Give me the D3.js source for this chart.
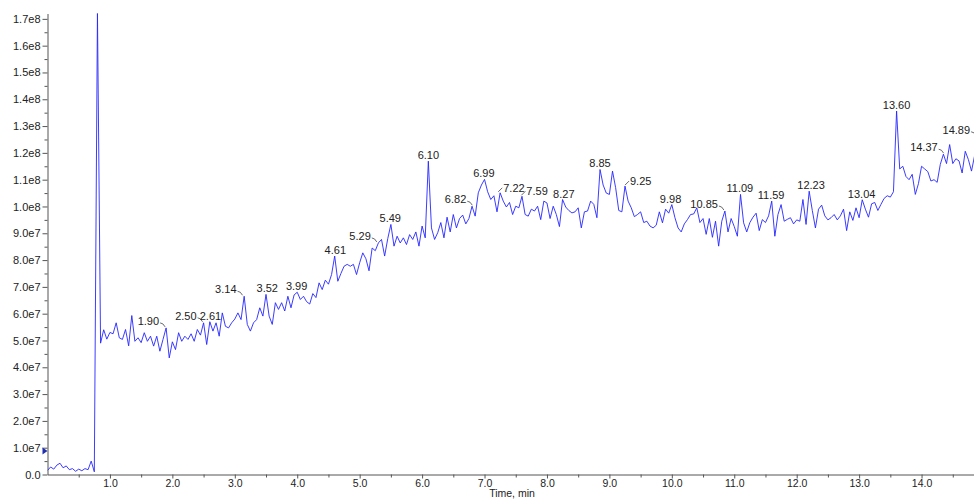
<!DOCTYPE html>
<html>
<head>
<meta charset="utf-8">
<title>TIC</title>
<script src="https://d3js.org/d3.v7.min.js"></script>
<style>
  body { margin: 0; background: #fff; }
  svg text { font-family: "Liberation Sans", Arial, sans-serif; font-size: 11px; }
</style>
</head>
<body>
<div id="chart"></div>
<script>

// scan spacing of the trace, in minutes
var scanStep = 0.05;

// intensity of each scan, in units of 1e7 counts
var intensity = [
  0.15, 0.28, 0.20, 0.35, 0.42, 0.25, 0.32, 0.18, 0.22, 0.12,
  0.20, 0.14, 0.22, 0.18, 0.50, 0.10, 17.25, 4.90, 5.40, 5.05,
  5.30, 5.25, 5.66, 5.10, 5.04, 5.41, 4.80, 5.93, 4.97, 5.10,
  4.92, 5.29, 4.97, 5.16, 4.79, 5.16, 4.60, 5.04, 5.47, 4.35,
  4.95, 4.66, 5.29, 4.97, 5.16, 5.04, 5.25, 4.97, 5.41, 5.20,
  5.66, 4.85, 5.70, 5.35, 5.66, 5.16, 6.03, 5.53, 5.47, 5.66,
  5.80, 6.03, 5.78, 6.65, 5.60, 5.35, 5.66, 5.78, 6.22, 5.91,
  6.72, 5.91, 5.60, 6.41, 6.16, 6.41, 6.10, 6.65, 6.22, 6.70,
  6.80, 6.53, 6.65, 6.45, 6.36, 6.75, 6.60, 7.15, 6.90, 7.25,
  7.10, 7.46, 8.15, 7.21, 7.50, 7.77, 7.84, 7.77, 7.84, 7.46,
  7.90, 8.27, 8.05, 7.60, 8.45, 8.35, 8.64, 8.77, 8.15, 8.80,
  9.33, 8.52, 8.89, 8.64, 8.83, 8.58, 8.95, 8.77, 9.05, 8.52,
  9.27, 8.83, 11.69, 9.20, 8.77, 9.02, 9.40, 8.83, 9.60, 9.05,
  9.70, 9.20, 9.55, 9.68, 9.35, 9.55, 10.01, 9.64, 10.51, 10.80,
  11.01, 10.55, 10.26, 10.40, 9.80, 10.51, 10.20, 9.98, 10.15, 9.70,
  10.01, 9.95, 10.38, 9.70, 9.64, 9.90, 9.83, 10.01, 9.51, 10.20,
  10.13, 9.55, 10.01, 9.70, 9.25, 10.26, 9.98, 9.85, 9.76, 9.80,
  9.95, 9.20, 9.80, 9.83, 10.20, 10.08, 9.58, 11.38, 10.80, 10.50,
  10.45, 11.32, 10.70, 9.85, 9.80, 10.76, 10.20, 9.95, 9.62, 9.70,
  9.80, 9.40, 9.45, 9.27, 9.20, 9.30, 9.80, 9.39, 9.90, 9.75,
  10.07, 9.58, 9.20, 9.05, 9.35, 9.51, 9.70, 9.72, 9.95, 9.40,
  9.55, 8.96, 9.55, 8.85, 9.45, 8.52, 9.45, 9.83, 9.05, 9.55,
  9.25, 8.89, 10.45, 9.39, 9.05, 9.40, 9.60, 9.75, 9.10, 9.51,
  9.40, 9.65, 10.20, 8.89, 9.70, 10.07, 9.45, 9.52, 9.58, 9.35,
  9.50, 9.45, 10.26, 9.33, 10.57, 9.85, 9.20, 9.90, 10.05, 9.65,
  9.50, 9.58, 9.70, 9.50, 9.65, 9.90, 9.10, 9.80, 9.48, 9.95,
  9.58, 10.25, 9.90, 9.60, 10.10, 10.15, 9.85, 10.08, 10.30, 10.40,
  10.35, 10.55, 13.56, 11.40, 11.50, 11.12, 11.00, 11.20, 10.45, 10.85,
  11.50, 11.40, 11.30, 10.95, 11.00, 10.90, 11.57, 11.95, 11.60, 12.31,
  11.60, 11.78, 11.70, 11.25, 12.06, 11.75, 11.32, 11.90, 12.60
];

// labelled peak apex times, and which side the label sits on
var peakTimes = [1.90, 2.50, 2.61, 3.14, 3.52, 3.99, 4.61, 5.29, 5.49, 6.10, 6.82, 6.99, 7.22,
                 7.59, 8.27, 8.85, 9.25, 9.98, 10.85, 11.09, 11.59, 12.23, 13.04, 13.60, 14.37, 14.89];
var labelSide = ["L", "L", "C", "L", "C", "C", "C", "L", "C", "C", "L", "C", "R",
                 "R", "C", "C", "R", "C", "L", "C", "C", "C", "C", "C", "L", "L"];

// axis ticks
var xTicks = [1, 2, 3, 4, 5, 6, 7, 8, 9, 10, 11, 12, 13, 14];
var xMinorTicks = [0.5, 1.5, 2.5, 3.5, 4.5, 5.5, 6.5, 7.5, 8.5, 9.5, 10.5, 11.5, 12.5, 13.5, 14.5];
var yTicks = d3.range(0, 18).map(function(k) { return k * 1e7; });
var yMinorTicks = d3.range(0, 17).map(function(k) { return k * 1e7 + 5e6; });
var markerLevel = 0.88e7;

var W = 974, H = 499;
var svg = d3.select("#chart").append("svg").attr("width", W).attr("height", H);

var data = intensity.map(function(v, i) { return { t: i * scanStep, v: v * 1e7 }; });

var x = d3.scaleLinear().domain([0, 14.84]).range([47.5, 974]);
var y = d3.scaleLinear().domain([0, 1.72e8]).range([474.5, 13.5]);

svg.append("clipPath").attr("id", "plot")
  .append("rect").attr("x", 47.5).attr("y", 13.5).attr("width", 974 - 47.5).attr("height", 474.5 - 13.5);

// y axis
function yFmt(d) {
  if (d === 0) return "0.0";
  return d3.format(".1e")(d).replace("e+", "e");
}
var gy = svg.append("g").attr("transform", "translate(47.5,0)")
  .call(d3.axisLeft(y).tickValues(yTicks).tickSize(5).tickSizeOuter(0).tickFormat(yFmt).tickPadding(2));
var gym = svg.append("g").attr("transform", "translate(47.5,0)")
  .call(d3.axisLeft(y).tickValues(yMinorTicks).tickSize(3).tickSizeOuter(0).tickFormat(""));
gym.select(".domain").remove();

// x axis
var gx = svg.append("g").attr("transform", "translate(0,474.5)")
  .call(d3.axisBottom(x).tickValues(xTicks).tickSize(4).tickSizeOuter(0).tickFormat(d3.format(".1f")).tickPadding(1));
var gxm = svg.append("g").attr("transform", "translate(0,474.5)")
  .call(d3.axisBottom(x).tickValues(xMinorTicks).tickSize(3).tickSizeOuter(0).tickFormat(""));
gxm.select(".domain").remove();

svg.selectAll(".domain, .tick line").attr("stroke", "#555");
svg.selectAll(".tick text").attr("fill", "#222").style("font-size", "11px")
  .style("font-family", "'Liberation Sans', Arial, sans-serif");
gx.selectAll(".tick text").style("font-size", "10.5px");

svg.append("text")
  .attr("x", 512).attr("y", 497)
  .attr("text-anchor", "middle")
  .attr("fill", "#222")
  .style("font-size", "10.5px")
  .text("Time, min");

// the trace
svg.append("path")
  .datum(data)
  .attr("clip-path", "url(#plot)")
  .attr("fill", "none")
  .attr("stroke", "#2626ff")
  .attr("stroke-width", 0.9)
  .attr("d", d3.line()
    .x(function(d) { return x(d.t); })
    .y(function(d) { return y(d.v); }));

// threshold marker on the y axis
var my = y(markerLevel), mx = x(0);
svg.append("path")
  .attr("d", "M" + (mx - 5) + "," + (my - 3.5) + "L" + mx + "," + my + "L" + (mx - 5) + "," + (my + 3.5) + "Z")
  .attr("fill", "#1f2fb0");

// peak labels
function apexOf(t) {
  var m = 0;
  data.forEach(function(d) { if (Math.abs(d.t - t) <= 0.055 && d.v > m) m = d.v; });
  return m;
}

var labels = svg.append("g");
peakTimes.forEach(function(t, k) {
  var ax = x(t), ay = y(apexOf(t));
  var side = labelSide[k];
  var txt = labels.append("text").attr("fill", "#222").text(t.toFixed(2));
  if (side === "C") {
    txt.attr("x", ax).attr("y", ay - 2).attr("text-anchor", "middle");
  } else if (side === "L") {
    txt.attr("x", ax - 7).attr("y", ay - 3).attr("text-anchor", "end");
    labels.append("path")
      .attr("d", "M" + (ax - 6) + "," + (ay - 5) + "Q" + (ax - 3) + "," + (ay - 5) + " " + (ax - 1) + "," + (ay - 1))
      .attr("fill", "none").attr("stroke", "#444").attr("stroke-width", 0.8);
  } else {
    txt.attr("x", ax + 5).attr("y", ay - 1).attr("text-anchor", "start");
    labels.append("path")
      .attr("d", "M" + ax + "," + (ay - 1) + "L" + (ax + 4) + "," + (ay - 5))
      .attr("fill", "none").attr("stroke", "#444").attr("stroke-width", 0.8);
  }
});

</script>
</body>
</html>
